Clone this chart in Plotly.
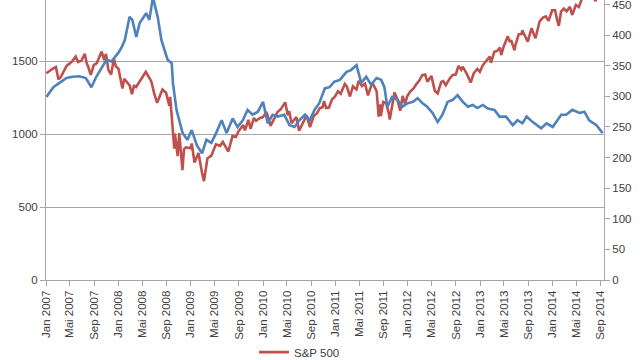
import plotly.graph_objects as go
import pandas as pd

# S&P 500 (left axis)
sp_dates = [
"2007-01-03","2007-01-16","2007-02-01","2007-02-20","2007-02-27","2007-03-05","2007-03-15","2007-03-30",
"2007-04-16","2007-04-30","2007-05-15","2007-05-31","2007-06-12","2007-06-29","2007-07-16","2007-07-26",
"2007-08-01","2007-08-15","2007-08-31","2007-09-14","2007-09-28","2007-10-09","2007-10-22","2007-10-31",
"2007-11-12","2007-11-26","2007-12-10","2007-12-20","2008-01-02","2008-01-22","2008-01-31","2008-02-15",
"2008-02-28","2008-03-10","2008-03-20","2008-03-31","2008-04-15","2008-04-30","2008-05-19","2008-05-30",
"2008-06-16","2008-06-30","2008-07-15","2008-07-31","2008-08-11","2008-08-29","2008-09-15","2008-09-19",
"2008-09-29","2008-10-10","2008-10-13","2008-10-27","2008-11-04","2008-11-20","2008-11-28","2008-12-08",
"2008-12-31","2009-01-06","2009-01-20","2009-02-09","2009-02-27","2009-03-09","2009-03-26","2009-04-15",
"2009-05-08","2009-05-29","2009-06-12","2009-07-10","2009-07-31","2009-08-17","2009-08-31","2009-09-23",
"2009-10-02","2009-10-19","2009-10-30","2009-11-16","2009-11-27","2009-12-15","2009-12-31","2010-01-19",
"2010-02-08","2010-02-26","2010-03-15","2010-03-31","2010-04-23","2010-05-06","2010-05-13","2010-05-25",
"2010-06-18","2010-07-02","2010-07-16","2010-07-30","2010-08-09","2010-08-26","2010-09-15","2010-09-30",
"2010-10-15","2010-10-29","2010-11-05","2010-11-16","2010-11-30","2010-12-15","2010-12-31","2011-01-14",
"2011-01-28","2011-02-18","2011-02-28","2011-03-16","2011-03-31","2011-04-18","2011-04-29","2011-05-16",
"2011-05-31","2011-06-15","2011-06-30","2011-07-07","2011-07-29","2011-08-08","2011-08-15","2011-08-19",
"2011-08-31","2011-09-15","2011-09-30","2011-10-03","2011-10-27","2011-11-10","2011-11-25","2011-12-07",
"2011-12-19","2011-12-30","2012-01-13","2012-01-31","2012-02-15","2012-02-29","2012-03-15","2012-03-30",
"2012-04-10","2012-04-30","2012-05-18","2012-06-01","2012-06-19","2012-06-29","2012-07-12","2012-07-31",
"2012-08-16","2012-08-31","2012-09-14","2012-09-28","2012-10-05","2012-10-26","2012-11-15","2012-11-30",
"2012-12-18","2012-12-31","2013-01-15","2013-01-31","2013-02-19","2013-02-25","2013-03-14","2013-03-28",
"2013-04-11","2013-04-18","2013-04-30","2013-05-21","2013-05-31","2013-06-07","2013-06-24","2013-06-28",
"2013-07-15","2013-07-31","2013-08-02","2013-08-30","2013-09-18","2013-09-30","2013-10-08","2013-10-29",
"2013-11-15","2013-11-29","2013-12-13","2013-12-31","2014-01-15","2014-01-24","2014-02-03","2014-02-14",
"2014-02-28","2014-03-14","2014-03-31","2014-04-11","2014-04-30","2014-05-15","2014-05-30","2014-06-16",
"2014-06-30","2014-07-15","2014-07-31","2014-08-07","2014-08-29","2014-09-18"]
sp_values = [
1416,1431,1445,1459,1399,1374,1387,1421,
1468,1482,1501,1530,1493,1503,1549,1482,
1465,1406,1473,1484,1527,1565,1506,1549,
1439,1407,1515,1463,1447,1311,1379,1349,
1331,1273,1330,1322,1351,1385,1426,1400,
1360,1280,1214,1267,1305,1283,1193,1255,
1106,899,1003,848,1006,752,896,909,
903,935,805,870,735,677,832,852,
929,919,946,880,987,980,1021,1061,
1025,1097,1036,1110,1091,1108,1115,1150,
1056,1104,1150,1169,1217,1128,1157,1074,
1117,1022,1065,1102,1128,1047,1126,1141,
1177,1183,1226,1178,1181,1236,1258,1293,
1276,1343,1327,1257,1326,1305,1364,1329,
1345,1265,1321,1353,1292,1119,1204,1124,
1219,1209,1131,1099,1285,1239,1159,1261,
1206,1258,1289,1312,1343,1366,1403,1408,
1358,1398,1295,1278,1357,1362,1334,1379,
1405,1407,1466,1441,1461,1412,1353,1416,
1446,1426,1472,1498,1531,1488,1563,1569,
1593,1541,1598,1669,1631,1643,1573,1606,
1682,1686,1710,1633,1725,1682,1656,1772,
1798,1806,1775,1848,1848,1790,1741,1838,
1859,1841,1872,1815,1884,1870,1924,1937,
1960,1973,1931,1910,2003,2011]

# Blue index (right axis)
idx_dates = [
"2007-01-03","2007-02-07","2007-03-10","2007-04-15","2007-05-15","2007-06-18","2007-07-21","2007-08-18",
"2007-09-12","2007-10-10","2007-11-03","2007-11-27","2008-01-01","2008-01-19","2008-02-03","2008-02-27",
"2008-03-12","2008-04-01","2008-04-18","2008-05-21","2008-06-06","2008-06-24","2008-07-18","2008-08-06",
"2008-08-21","2008-09-06","2008-09-27","2008-10-03","2008-10-21","2008-11-06","2008-11-21","2008-12-15",
"2009-01-06","2009-02-01","2009-02-27","2009-03-21","2009-04-15","2009-05-09","2009-06-06","2009-07-01",
"2009-08-01","2009-08-25","2009-09-21","2009-10-15","2009-11-09","2009-12-06","2010-01-01","2010-01-25",
"2010-02-18","2010-03-15","2010-04-18","2010-05-15","2010-06-09","2010-07-03","2010-08-01","2010-08-25",
"2010-09-18","2010-10-12","2010-11-09","2010-12-03","2010-12-27","2011-01-24","2011-02-27","2011-03-21",
"2011-04-18","2011-05-12","2011-06-06","2011-07-01","2011-07-28","2011-08-21","2011-09-06","2011-09-21",
"2011-10-15","2011-11-12","2011-12-06","2012-01-01","2012-01-28","2012-02-21","2012-03-15","2012-04-09",
"2012-05-06","2012-06-01","2012-06-25","2012-07-21","2012-08-15","2012-09-09","2012-10-06","2012-11-01",
"2012-11-25","2012-12-18","2013-01-15","2013-02-09","2013-03-15","2013-04-09","2013-05-12","2013-06-15",
"2013-07-09","2013-08-03","2013-08-24","2013-09-24","2013-11-06","2013-12-03","2014-01-03","2014-02-15",
"2014-03-12","2014-04-12","2014-05-18","2014-06-12","2014-07-06","2014-08-12","2014-09-12"]
idx_values = [
299,315,322,330,332,333,330,315,
332,348,360,357,371,381,392,430,
425,397,420,436,425,462,430,392,
376,360,354,322,278,256,240,229,
245,220,207,229,224,240,261,240,
264,250,261,278,270,275,291,256,
270,267,270,253,250,261,270,261,
278,289,313,315,324,327,340,343,
351,322,332,319,330,327,315,283,
299,294,283,289,291,297,289,283,
273,258,270,291,294,302,291,283,
286,281,286,280,278,267,267,253,
261,256,267,258,248,256,250,270,
270,278,273,275,261,253,240]

# x-axis ticks (German month labels)
tick_dates = pd.date_range("2007-01-01", "2014-09-01", freq="4MS")
month_names = {1: "Jan", 5: "Mai", 9: "Sep"}
tick_labels = [f"{month_names[d.month]} {d.year}" for d in tick_dates]

RED = "#C0504D"
BLUE = "#4F81BD"
GRID = "#A6A6A6"
FONT = dict(family="Liberation Sans, Arial, sans-serif", size=11.5, color="#404040")

fig = go.Figure()
fig.add_trace(go.Scatter(x=pd.to_datetime(sp_dates), y=sp_values, mode="lines", name="S&P 500",
                         line=dict(color=RED, width=2.6)))
fig.add_trace(go.Scatter(x=pd.to_datetime(idx_dates), y=idx_values, mode="lines", name="Index",
                         line=dict(color=BLUE, width=2.6), yaxis="y2", showlegend=False))

fig.update_layout(
    width=640, height=360,
    margin=dict(l=46, r=36, t=0, b=80, autoexpand=False),
    paper_bgcolor="white", plot_bgcolor="white",
    font=FONT,
    showlegend=True,
    legend=dict(orientation="h", xref="container", yref="container", x=0.468, y=0.022,
                xanchor="center", yanchor="middle", font=FONT, bgcolor="rgba(0,0,0,0)"),
    xaxis=dict(type="date", range=["2007-01-01", "2014-09-19"], automargin=False,
               tickmode="array", tickvals=list(tick_dates), ticktext=tick_labels,
               tickangle=-90, ticks="outside", ticklen=5, tickcolor=GRID,
               showline=True, linecolor=GRID, linewidth=1, showgrid=False, zeroline=False),
    yaxis=dict(range=[0, 1918], tickvals=[0, 500, 1000, 1500], ticks="outside", ticklen=5,
               automargin=False, ticklabeloverflow="allow",
               tickcolor=GRID, showline=True, linecolor=GRID, linewidth=1,
               showgrid=True, gridcolor=GRID, gridwidth=1, zeroline=False),
    yaxis2=dict(range=[0, 457.5], dtick=50, overlaying="y", side="right", ticks="outside",
                automargin=False, ticklabeloverflow="allow",
                ticklen=5, tickcolor=GRID, showline=True, linecolor=GRID, linewidth=1,
                showgrid=False, zeroline=False),
)

fig.write_html("out.html", config={"displayModeBar": False},
               post_script="document.body.style.margin='0';document.body.style.overflow='hidden';")
